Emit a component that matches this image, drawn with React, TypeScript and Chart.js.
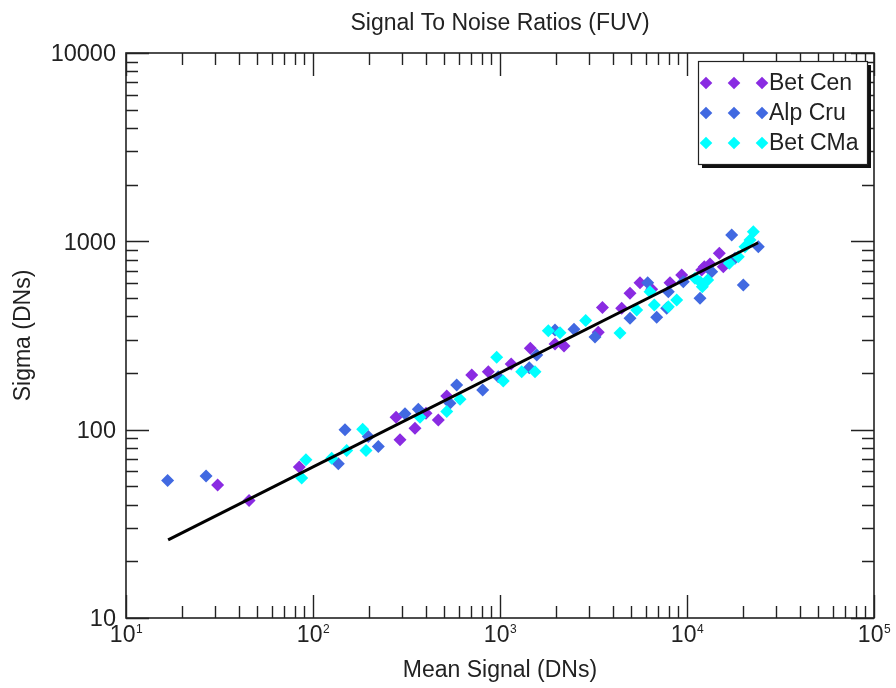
import React, { useEffect, useRef } from "react";
import { Chart, registerables } from "chart.js";

Chart.register(...registerables);

// ---- Data ----
const seriesNames = ["Bet Cen", "Alp Cru", "Bet CMa"];
const seriesColors = ["#8a2be2", "#4169e1", "#00ffff"];

const betCenX = [30.9, 45.5, 84.5, 278, 292, 351, 402, 468, 519, 706, 866, 1148, 1452, 1969, 2199, 3354, 3531, 4476, 4958, 5607, 6476, 8111, 9370, 11985, 12375, 13274, 14885, 15636];
const betCenY = [50.8, 42.1, 63.3, 116.5, 88.3, 101.9, 122.3, 112.7, 151.1, 195.3, 203.3, 223.4, 270.6, 285.3, 278.4, 329, 445.6, 441, 530, 603, 556, 603, 662.8, 704, 733, 758, 864, 733];

const alpCruX = [16.7, 26.8, 136.6, 148.3, 197.6, 223.5, 310.5, 365.7, 540, 586.7, 808, 979, 1434, 1572, 1969, 2487, 3221, 4958, 6164, 6887, 7943, 7787, 9555, 11735, 13555, 17340, 18060, 20010, 24060];
const alpCruY = [53.7, 56.7, 65.9, 99.8, 91.9, 81.3, 121.3, 128.5, 138.2, 172.9, 162.6, 191.2, 213.5, 249.3, 338.4, 341.4, 310.7, 390.4, 603, 395, 540, 441, 610.5, 498.5, 690, 1080, 812, 586.6, 936];

const betCMaX = [87, 91.7, 125.9, 151.4, 184.4, 192, 373.4, 519, 611, 960, 1041, 1306, 1539, 1813, 2094, 2873, 4383, 5383, 6341, 6686, 7943, 8810, 11035, 11735, 12075, 12905, 16840, 18810, 20430, 21720, 22620];
const betCMaY = [55.3, 69.2, 70.6, 77.5, 100.6, 77.5, 116.5, 124.7, 145.1, 242.3, 181.5, 203.3, 203.3, 335.5, 327.4, 379.3, 326.2, 432, 540, 459.3, 449.8, 488.3, 636, 610.5, 574.5, 623, 764, 828, 936, 1016, 1124];

const fitX = [16.8, 24000];
const fitY = [26, 983];

const xMin = 10;
const xMax = 100000;
const yMin = 10;
const yMax = 10000;
const xTickValues = [10, 100, 1000, 10000, 100000];
const xTickExponents = ["1", "2", "3", "4", "5"];
const yTickValues = [10, 100, 1000, 10000];
const yTickLabels = ["10", "100", "1000", "10000"];

const titleText = "Signal To Noise Ratios (FUV)";
const xTitle = "Mean Signal (DNs)";
const yTitle = "Sigma (DNs)";

const FONT = '"Liberation Sans", Arial, Helvetica, sans-serif';
const TEXT_COLOR = "#222";

function toPoints(xs: number[], ys: number[]) {
  return xs.map((x, i) => ({ x, y: ys[i] }));
}

function minorValues(min: number, max: number): number[] {
  const out: number[] = [];
  for (let d = min; d < max; d *= 10) {
    for (let k = 2; k <= 9; k++) out.push(d * k);
  }
  return out;
}

function diamond(ctx: CanvasRenderingContext2D, x: number, y: number, r: number, color: string) {
  ctx.beginPath();
  ctx.moveTo(x, y - r);
  ctx.lineTo(x + r, y);
  ctx.lineTo(x, y + r);
  ctx.lineTo(x - r, y);
  ctx.closePath();
  ctx.fillStyle = color;
  ctx.fill();
}

const framePlugin = {
  id: "framePlugin",
  beforeDatasetsDraw(chart: any) {
    const { ctx, chartArea } = chart;
    const xs = chart.scales.x;
    const ys = chart.scales.y;
    const { left, right, top, bottom } = chartArea;
    ctx.save();
    ctx.strokeStyle = "#222";
    ctx.lineWidth = 1.6;
    ctx.strokeRect(left, top, right - left, bottom - top);

    const major = 23;
    const minor = 12;
    ctx.lineWidth = 1.4;
    ctx.beginPath();
    const xMinor = minorValues(xMin, xMax);
    const yMinor = minorValues(yMin, yMax);
    for (const v of xTickValues) {
      const p = Math.round(xs.getPixelForValue(v)) + 0.5;
      ctx.moveTo(p, bottom); ctx.lineTo(p, bottom - major);
      ctx.moveTo(p, top); ctx.lineTo(p, top + major);
    }
    for (const v of xMinor) {
      const p = Math.round(xs.getPixelForValue(v)) + 0.5;
      ctx.moveTo(p, bottom); ctx.lineTo(p, bottom - minor);
      ctx.moveTo(p, top); ctx.lineTo(p, top + minor);
    }
    for (const v of yTickValues) {
      const p = Math.round(ys.getPixelForValue(v)) + 0.5;
      ctx.moveTo(left, p); ctx.lineTo(left + major, p);
      ctx.moveTo(right, p); ctx.lineTo(right - major, p);
    }
    for (const v of yMinor) {
      const p = Math.round(ys.getPixelForValue(v)) + 0.5;
      ctx.moveTo(left, p); ctx.lineTo(left + minor, p);
      ctx.moveTo(right, p); ctx.lineTo(right - minor, p);
    }
    ctx.stroke();

    // tick labels
    ctx.fillStyle = TEXT_COLOR;
    ctx.textBaseline = "alphabetic";
    xTickValues.forEach((v, i) => {
      const p = xs.getPixelForValue(v);
      ctx.font = `23px ${FONT}`;
      const w1 = ctx.measureText("10").width;
      ctx.font = `12px ${FONT}`;
      const w2 = ctx.measureText(xTickExponents[i]).width;
      const start = p - (w1 + w2) / 2;
      ctx.font = `23px ${FONT}`;
      ctx.textAlign = "left";
      ctx.fillText("10", start, bottom + 24);
      ctx.font = `12px ${FONT}`;
      ctx.fillText(xTickExponents[i], start + w1 + 0.5, bottom + 15);
    });
    ctx.font = `23.5px ${FONT}`;
    ctx.textAlign = "right";
    ctx.textBaseline = "middle";
    yTickValues.forEach((v, i) => {
      const p = ys.getPixelForValue(v);
      ctx.fillText(yTickLabels[i], left - 10, p + 2);
    });

    // titles
    ctx.textAlign = "center";
    ctx.textBaseline = "alphabetic";
    ctx.font = `23px ${FONT}`;
    ctx.fillText(titleText, (left + right) / 2, 30);
    ctx.fillText(xTitle, (left + right) / 2, 677);
    ctx.save();
    ctx.translate(30, (top + bottom) / 2);
    ctx.rotate(-Math.PI / 2);
    ctx.fillText(yTitle, 0, 0);
    ctx.restore();
    ctx.restore();
  },
  afterDraw(chart: any) {
    const { ctx, chartArea } = chart;
    const bx = chartArea.right - 176;
    const by = chartArea.top + 8;
    const bw = 169;
    const bh = 103;
    ctx.save();
    ctx.fillStyle = "#111";
    ctx.fillRect(bx + 4, by + 4, bw, bh);
    ctx.fillStyle = "#fff";
    ctx.fillRect(bx, by, bw, bh);
    ctx.strokeStyle = "#222";
    ctx.lineWidth = 1.2;
    ctx.strokeRect(bx + 0.5, by + 0.5, bw, bh);
    const rowYs = [by + 22, by + 52, by + 82];
    const markX = [bx + 8, bx + 36, bx + 64];
    ctx.font = `23px ${FONT}`;
    ctx.textAlign = "left";
    ctx.textBaseline = "middle";
    seriesNames.forEach((name, i) => {
      markX.forEach((mx) => diamond(ctx, mx, rowYs[i], 6.3, seriesColors[i]));
      ctx.fillStyle = TEXT_COLOR;
      ctx.fillText(name, bx + 71, rowYs[i] + 1);
    });
    ctx.restore();
  },
};

export default function App() {
  const canvasRef = useRef<HTMLCanvasElement | null>(null);

  useEffect(() => {
    if (!canvasRef.current) return;
    const pointDs = (label: string, xs: number[], ys: number[], color: string, order: number) => ({
      type: "scatter" as const,
      label,
      data: toPoints(xs, ys),
      backgroundColor: color,
      borderColor: color,
      pointStyle: "rectRot" as const,
      pointRadius: 6.5,
      pointBorderWidth: 0,
      borderWidth: 0,
      showLine: false,
      order,
    });
    const chart = new Chart(canvasRef.current, {
      type: "scatter",
      data: {
        datasets: [
          {
            type: "line" as const,
            label: "fit",
            data: toPoints(fitX, fitY),
            borderColor: "#000",
            borderWidth: 3,
            pointRadius: 0,
            fill: false,
            showLine: true,
            order: 0,
          } as any,
          pointDs(seriesNames[2], betCMaX, betCMaY, seriesColors[2], 1),
          pointDs(seriesNames[1], alpCruX, alpCruY, seriesColors[1], 2),
          pointDs(seriesNames[0], betCenX, betCenY, seriesColors[0], 3),
        ],
      },
      options: {
        animation: false,
        responsive: false,
        layout: { padding: { left: 126, right: 22, top: 53, bottom: 70 } },
        plugins: {
          legend: { display: false },
          tooltip: { enabled: false },
          title: { display: false },
        },
        scales: {
          x: { type: "logarithmic", min: xMin, max: xMax, display: false },
          y: { type: "logarithmic", min: yMin, max: yMax, display: false },
        },
      },
      plugins: [framePlugin],
    });
    return () => chart.destroy();
  }, []);

  return (
    <div style={{ position: "absolute", left: 0, top: 0, width: 896, height: 688, background: "#fff" }}>
      <canvas ref={canvasRef} width={896} height={688} style={{ display: "block" }} />
    </div>
  );
}
